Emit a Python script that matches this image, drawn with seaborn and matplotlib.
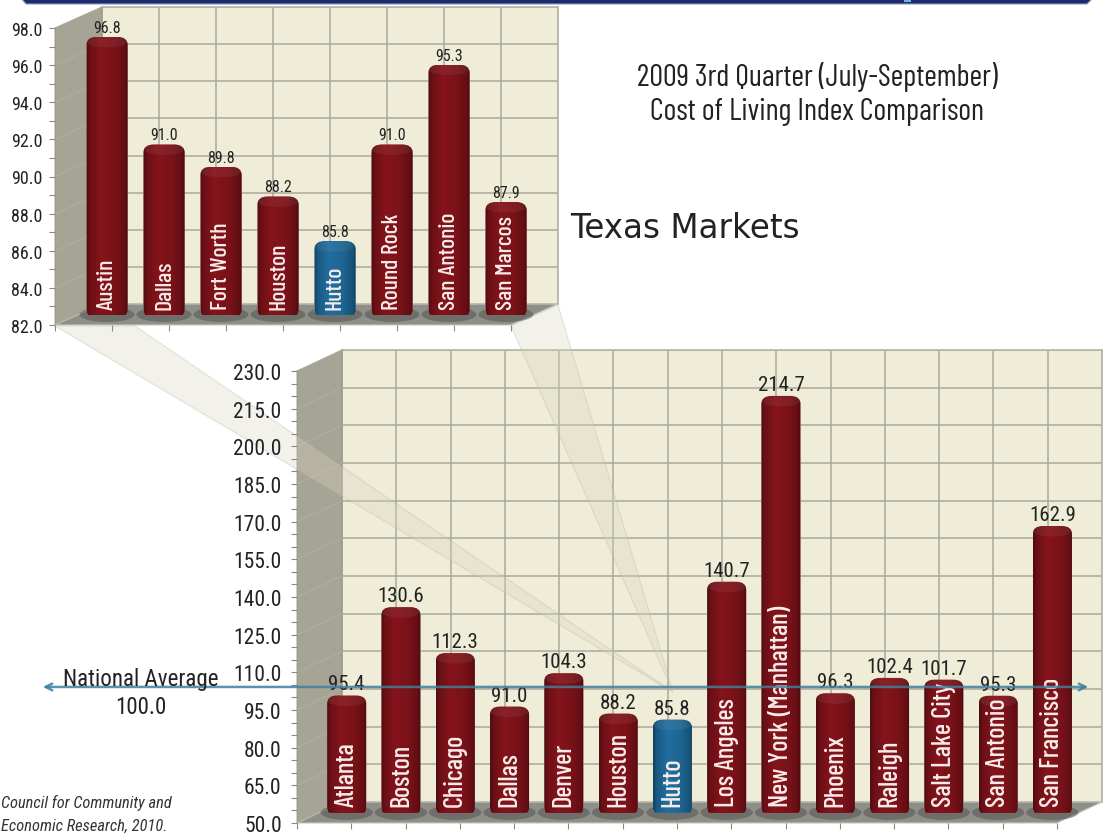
"""
Cost of living index comparison, 2009 3rd quarter: Texas markets over US markets.
"""
import numpy as np
import matplotlib
matplotlib.use('Agg')
import matplotlib.pyplot as plt
import seaborn as sns
from matplotlib.patches import Polygon, Ellipse, FancyBboxPatch
from matplotlib.ticker import FixedLocator
from matplotlib.transforms import blended_transform_factory

W, H = 1107, 837

texas_cities = ['Austin', 'Dallas', 'Fort Worth', 'Houston', 'Hutto',
                'Round Rock', 'San Antonio', 'San Marcos']
texas_values = [96.8, 91.0, 89.8, 88.2, 85.8, 91.0, 95.3, 87.9]
texas_ticks = [82, 84, 86, 88, 90, 92, 94, 96, 98]

us_cities = ['Atlanta', 'Boston', 'Chicago', 'Dallas', 'Denver', 'Houston', 'Hutto',
             'Los Angeles', 'New York (Manhattan)', 'Phoenix', 'Raleigh',
             'Salt Lake City', 'San Antonio', 'San Francisco']
us_values = [95.4, 130.6, 112.3, 91.0, 104.3, 88.2, 85.8, 140.7, 214.7, 96.3,
             102.4, 101.7, 95.3, 162.9]
us_ticks = [50, 65, 80, 95, 110, 125, 140, 155, 170, 185, 200, 215, 230]

national_average = 100.0

RED = '#80131a'
BLUE = '#1f6a9a'
NARROW = ['Roboto Condensed', 'Liberation Sans', 'DejaVu Sans']
NARROWER = ['Barlow Condensed', 'Roboto Condensed', 'Liberation Sans', 'DejaVu Sans']

sns.set_theme(style='white')
plt.rcParams['font.family'] = NARROW


def px_axes(fig, left, right, top, bottom, zorder):
    """Ejes colocados con coordenadas en pixeles de la imagen."""
    ax = fig.add_axes([left / W, 1 - bottom / H, (right - left) / W, (bottom - top) / H])
    ax.set_zorder(zorder)
    return ax


def shade(color):
    """Gradiente horizontal de un cilindro a partir del color de la barra."""
    base = np.array(matplotlib.colors.to_rgb(color))
    pos = [0.0, 0.1, 0.35, 0.7, 0.92, 1.0]
    fac = [0.62, 0.85, 1.04, 0.95, 0.78, 0.6]
    t = np.linspace(0, 1, 64)
    f = np.interp(t, pos, fac)
    return np.clip(f[None, :, None] * base[None, None, :], 0, 1)


def cylinders(ax, colors, value_size):
    """Convierte las barras de seaborn en cilindros y pone sus valores."""
    bbox = ax.get_position()
    ymin, ymax = ax.get_ylim()
    xmin, xmax = ax.get_xlim()
    px_y = (ymax - ymin) / (bbox.height * H)
    for bar, color in zip(ax.patches, colors):
        x, w, top = bar.get_x(), bar.get_width(), bar.get_height()
        cx = x + w / 2
        ax.add_patch(Ellipse((cx, ymin), w * 1.34, 15 * px_y, fc='#4e4e4c', ec='none',
                             alpha=0.5, clip_on=False, zorder=1))
        low, high = ymin - 3 * px_y, top + 3 * px_y
        r = w * 0.26
        outline = FancyBboxPatch((x, low), w, high - low,
                                 boxstyle=f'round,pad=0,rounding_size={r}',
                                 mutation_aspect=8 * px_y / r,
                                 transform=ax.transData, fc='none', ec='none')
        ax.add_patch(outline)
        bar.set_zorder(2)
        bar.set_clip_path(outline)
        im = ax.imshow(shade(color), extent=(x, x + w, low, high), aspect='auto', zorder=3)
        im.set_clip_path(outline)
        cap = Ellipse((cx, high - 5 * px_y), w * 1.0, 11 * px_y, fc='#ffffff', ec='none',
                      alpha=0.06, zorder=4)
        ax.add_patch(cap)
        cap.set_clip_path(outline)
        ax.text(cx, top + 5 * px_y, f'{top:.1f}', ha='center', va='bottom',
                fontsize=value_size, color='#222222', zorder=6, clip_on=False)
    ax.set_xlim(xmin, xmax)
    ax.set_ylim(ymin, ymax)


def panel(fig, deco, cities, values, front, depth, ticks, minor, sizes, pad):
    """Dibuja un grafico 3D falso: pared del fondo, suelo, ejes y barras."""
    left, right, top, bottom = front
    dx, dy = depth
    n = len(cities)
    colors = [BLUE if c == 'Hutto' else RED for c in cities]
    ylim = (ticks[0], ticks[-1])
    minor_ticks = np.arange(ticks[0], ticks[-1] + minor, minor)

    # Pared del fondo con su rejilla
    back = px_axes(fig, left + dx, right + dx, top - dy, bottom - dy, 1)
    back.set_facecolor('#efecd7')
    back.set_xlim(0, n)
    back.set_ylim(*ylim)
    back.set_xticks(range(n + 1))
    back.set_yticks(ticks)
    back.grid(True, color='#a9a99b', lw=1.1)
    back.tick_params(left=False, bottom=False, labelleft=False, labelbottom=False)
    for s in back.spines.values():
        s.set_color('#b5b5a8')
        s.set_linewidth(1.2)

    # Pared lateral y suelo
    deco.add_patch(Polygon([(left, top), (left + dx, top - dy), (left + dx, bottom - dy),
                            (left, bottom)], fc='#a6a494', ec='#95937f', lw=0.6, zorder=2))
    deco.add_patch(Polygon([(left, bottom), (right, bottom), (right + dx, bottom - dy),
                            (left + dx, bottom - dy)], fc='#8f8f8a', ec='#c9c9c0', lw=0.8, zorder=2))
    for v in ticks:
        yf = bottom - (v - ylim[0]) / (ylim[1] - ylim[0]) * (bottom - top)
        deco.plot([left, left + dx], [yf, yf - dy], color='#b3b1a1', lw=0.6, zorder=3)

    # Eje frontal: solo marcas y numeros
    ax_front = px_axes(fig, left, right, top, bottom, 3)
    ax_front.patch.set_visible(False)
    ax_front.set_xlim(0, n)
    ax_front.set_ylim(*ylim)
    ax_front.set_xticks(range(n + 1))
    ax_front.set_yticks(ticks)
    ax_front.yaxis.set_minor_locator(FixedLocator(minor_ticks))
    ax_front.yaxis.set_major_formatter(lambda v, _: f'{v:.1f}')
    ax_front.tick_params(axis='both', which='both', left=True, bottom=True, length=4,
                         width=0.8, color='#8a8a80', labelbottom=False,
                         labelsize=sizes[0], labelcolor='#222222', pad=pad)
    for s in ax_front.spines.values():
        s.set_visible(False)

    # Barras a media profundidad
    ax = px_axes(fig, left + dx / 2, right + dx / 2, top - dy / 2, bottom - dy / 2, 4)
    ax.patch.set_visible(False)
    sns.barplot(x=cities, y=values, hue=cities, palette=colors, legend=False, width=0.72,
                saturation=1, ax=ax)
    ax.set_xlim(-0.5, n - 0.5)
    ax.set_ylim(*ylim)
    ax.set_xlabel('')
    ax.set_ylabel('')
    ax.axis('off')
    cylinders(ax, colors, sizes[2])
    ymin, ymax = ax.get_ylim()
    px_y = (ymax - ymin) / (bottom - top)
    for i, c in enumerate(cities):
        ax.text(i, ymin + 6 * px_y, c, rotation=90, ha='center', va='bottom', color='#f6ecea',
                fontsize=sizes[1], family=NARROWER, weight='medium', zorder=6, clip_on=False)
    return ax


fig = plt.figure(figsize=(W / 100, H / 100), dpi=100, facecolor='white')

# Capa con coordenadas en pixeles para decoracion
deco = fig.add_axes([0, 0, 1, 1], zorder=2)
deco.set_xlim(0, W)
deco.set_ylim(H, 0)
deco.axis('off')

ax_tx = panel(fig, deco, texas_cities, texas_values, (55, 511, 29, 326), (47, 21),
              texas_ticks, 1, (13, 17, 11.5), 5)
ax_us = panel(fig, deco, us_cities, us_values, (297, 1057, 372, 824), (45, 21),
              us_ticks, 5, (15.5, 19, 15), 7)

# Cuñas que unen Hutto con el grafico de Texas
deco.add_patch(Polygon([(55, 327), (135, 327), (673, 693)], fc='#d8d5c0', ec='#bdbaa3',
                       lw=0.9, alpha=0.32, zorder=4))
deco.add_patch(Polygon([(511, 327), (558, 306), (673, 693)], fc='#d8d5c0', ec='#bdbaa3',
                       lw=0.9, alpha=0.32, zorder=4))

# Banda de cabecera
deco.add_patch(Polygon([(20, -2), (26, 5), (1087, 5), (1094, -2)], fc='#1d2a6c', ec='#8f9bbd',
                       lw=0.8, zorder=5))
deco.add_patch(Polygon([(904, -1), (911, -1), (911, 3), (904, 3)], fc='#6fb3d6', ec='none', zorder=6))

# Linea del promedio nacional
line_tr = blended_transform_factory(deco.transData, ax_us.transData)
ax_us.annotate('', xy=(40, national_average), xytext=(1091, national_average),
               xycoords=line_tr, textcoords=line_tr,
               arrowprops=dict(arrowstyle='<->', color='#3f7f9f', lw=1.8, alpha=0.85),
               zorder=8, annotation_clip=False)

fig.text(141 / W, 1 - 680 / H, 'National Average', ha='center', va='center', fontsize=16.6,
         color='#222222', zorder=10)
fig.text(141 / W, 1 - 707 / H, f'{national_average:.1f}', ha='center', va='center', fontsize=16.6,
         color='#222222', zorder=10)
fig.text(817 / W, 1 - 77 / H, '2009 3rd Quarter (July-September)', ha='center', va='center',
         fontsize=22, color='#222222', family=NARROWER)
fig.text(817 / W, 1 - 112 / H, 'Cost of Living Index Comparison', ha='center', va='center',
         fontsize=22, color='#222222', family=NARROWER)
fig.text(570 / W, 1 - 228 / H, 'Texas Markets', ha='left', va='center', fontsize=23.5,
         color='#222222', family='DejaVu Sans')
fig.text(1 / W, 1 - 803 / H, 'Council for Community and', ha='left', va='center', fontsize=11.8,
         style='italic', color='#333333')
fig.text(1 / W, 1 - 826 / H, 'Economic Research, 2010.', ha='left', va='center', fontsize=11.8,
         style='italic', color='#333333')

fig.savefig('out.png', dpi=100)
plt.close(fig)
